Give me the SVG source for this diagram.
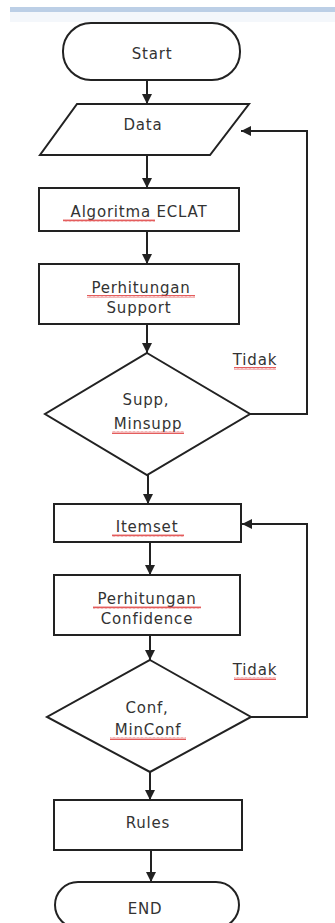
<svg xmlns="http://www.w3.org/2000/svg" width="335" height="923" viewBox="0 0 335 923">
<defs>
<style>
.n{fill:#fff;stroke:#222;stroke-width:2}
.t{font-family:"DejaVu Sans",sans-serif;font-size:15px;fill:#333;text-anchor:middle;letter-spacing:0.8px}
.c{fill:none;stroke:#222;stroke-width:2}
.sq{fill:url(#wave)}
</style>
<marker id="ah" viewBox="0 0 10 10" refX="10" refY="5" markerWidth="5" markerHeight="5" orient="auto" markerUnits="strokeWidth">
<path d="M0,0 L10,5 L0,10 z" fill="#222"/>
</marker>
<pattern id="wave" width="4" height="3" patternUnits="userSpaceOnUse">
<path d="M0,2.5 L1,0.5 L2,2.5 L3,0.5 L4,2.5" fill="none" stroke="#d33" stroke-width="0.8"/>
</pattern>
</defs>
<rect x="0" y="0" width="335" height="923" fill="#fff"/>
<rect x="10" y="7" width="325" height="5" fill="#bccfe6"/>
<rect x="10" y="12" width="325" height="10" fill="#f4f7fb"/>

<g id="connectors">
<line class="c" x1="147" y1="80" x2="147" y2="104" marker-end="url(#ah)"/>
<line class="c" x1="147" y1="155" x2="147" y2="188" marker-end="url(#ah)"/>
<line class="c" x1="147" y1="231" x2="147" y2="264" marker-end="url(#ah)"/>
<line class="c" x1="147" y1="324" x2="147" y2="353" marker-end="url(#ah)"/>
<polyline class="c" points="250,414 307,414 307,131 241,131" marker-end="url(#ah)"/>
<line class="c" x1="148" y1="475" x2="148" y2="504" marker-end="url(#ah)"/>
<line class="c" x1="150" y1="542" x2="150" y2="575" marker-end="url(#ah)"/>
<line class="c" x1="150" y1="635" x2="150" y2="660" marker-end="url(#ah)"/>
<polyline class="c" points="251,717 307,717 307,524 242,524" marker-end="url(#ah)"/>
<line class="c" x1="150" y1="772" x2="150" y2="800" marker-end="url(#ah)"/>
<line class="c" x1="151" y1="850" x2="151" y2="882" marker-end="url(#ah)"/>
<text class="t" x="255" y="365">Tidak</text>
<rect class="sq" x="234" y="367" width="42" height="3"/>
<text class="t" x="255" y="675">Tidak</text>
<rect class="sq" x="234" y="677" width="42" height="3"/>
</g>

<g id="start">
<rect class="n" x="63" y="23" width="177" height="57" rx="28"/>
<text class="t" x="152" y="59">Start</text>
</g>
<g id="data">
<polygon class="n" points="77,104 249,104 210,155 40,155"/>
<text class="t" x="143" y="130">Data</text>
</g>
<g id="algoritma">
<rect class="n" x="39" y="188" width="200" height="43"/>
<text class="t" x="139" y="217">Algoritma ECLAT</text>
<rect class="sq" x="63" y="219" width="92" height="3"/>
</g>
<g id="support">
<rect class="n" x="39" y="264" width="200" height="60"/>
<text class="t" x="141" y="293">Perhitungan</text>
<rect class="sq" x="87" y="295" width="108" height="3"/>
<text class="t" x="139" y="313">Support</text>
</g>
<g id="minsupp">
<polygon class="n" points="147,353 250,414 147,475 45,414"/>
<text class="t" x="146" y="405">Supp,</text>
<text class="t" x="148" y="429">Minsupp</text>
<rect class="sq" x="112" y="431" width="72" height="3"/>
</g>
<g id="itemset">
<rect class="n" x="54" y="504" width="187" height="38"/>
<text class="t" x="147" y="532">Itemset</text>
<rect class="sq" x="112" y="534" width="72" height="3"/>
</g>
<g id="confidence">
<rect class="n" x="54" y="575" width="186" height="60"/>
<text class="t" x="147" y="604">Perhitungan</text>
<rect class="sq" x="93" y="606" width="108" height="3"/>
<text class="t" x="147" y="624">Confidence</text>
</g>
<g id="minconf">
<polygon class="n" points="150,660 251,717 150,772 47,717"/>
<text class="t" x="147" y="713">Conf,</text>
<text class="t" x="148" y="735">MinConf</text>
<rect class="sq" x="110" y="737" width="76" height="3"/>
</g>
<g id="rules">
<rect class="n" x="54" y="800" width="188" height="50"/>
<text class="t" x="148" y="828">Rules</text>
</g>
<g id="end">
<rect class="n" x="55" y="882" width="184" height="46" rx="23"/>
<text class="t" x="145" y="914">END</text>
</g>
</svg>
